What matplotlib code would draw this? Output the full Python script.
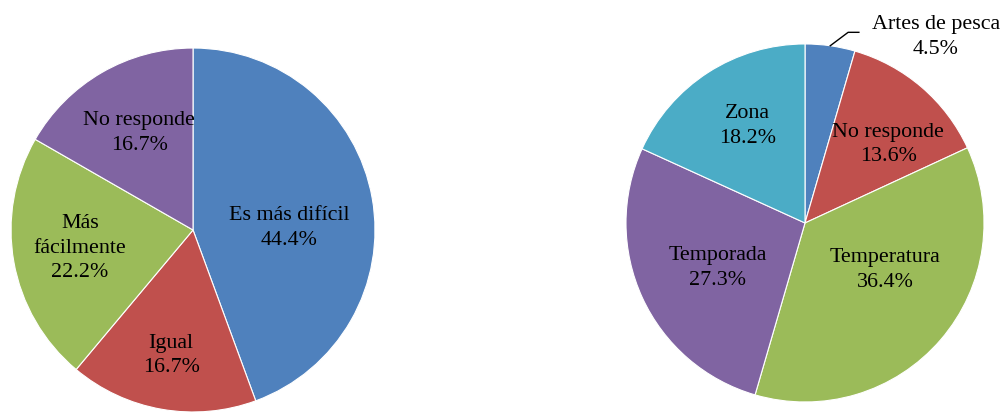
import numpy as np
import matplotlib.pyplot as plt

plt.rcParams['font.family'] = ['Liberation Serif', 'DejaVu Serif']

# left chart
left_labels = ['Es más difícil', 'Igual', 'Más\nfácilmente', 'No responde']
left_vals = [44.4, 16.7, 22.2, 16.7]
left_colors = ['#4F81BD', '#C0504D', '#9BBB59', '#8064A2']

# right chart
right_labels = ['Artes de pesca', 'No responde', 'Temperatura', 'Temporada', 'Zona']
right_vals = [4.5, 13.6, 36.4, 27.3, 18.2]
right_colors = ['#4F81BD', '#C0504D', '#9BBB59', '#8064A2', '#4BACC6']

# label placement: (distance from centre, angle shift in degrees)
left_lab_pos = [(0.53, -9), (0.70, 0), (0.63, -1), (0.61, -1)]
right_lab_pos = [None, (0.64, -6), (0.52, 10.5), (0.55, 2.5), (0.63, -2)]

fs = 15.8


def draw_pie(ax, vals, labels, colors, lab_pos):
    wedges, _ = ax.pie(vals, colors=colors, startangle=90, counterclock=False,
                       radius=1, wedgeprops=dict(edgecolor='white', linewidth=0.8))
    for w, lab, v, pos in zip(wedges, labels, vals, lab_pos):
        if pos is None:
            continue
        mid = np.deg2rad((w.theta1 + w.theta2) / 2 + pos[1])
        ax.text(pos[0] * np.cos(mid), pos[0] * np.sin(mid), f'{lab}\n{v:.1f}%',
                ha='center', va='center', fontsize=fs, linespacing=1.4)
    ax.set_xlim(-1, 1)
    ax.set_ylim(-1, 1)
    ax.set_aspect('equal')
    ax.axis('off')
    return wedges


fig = plt.figure(figsize=(10.04, 4.12), dpi=100)
ax1 = fig.add_axes([0.011, 0.0, 0.3625, 0.8835])
draw_pie(ax1, left_vals, left_labels, left_colors, left_lab_pos)

ax2 = fig.add_axes([0.6235, 0.0243, 0.3566, 0.869])
w2 = draw_pie(ax2, right_vals, right_labels, right_colors, right_lab_pos)

# outside label for the small slice with a leader line
w = w2[0]
mid = np.deg2rad((w.theta1 + w.theta2) / 2)
x0, y0 = np.cos(mid), np.sin(mid)
ax2.plot([x0, x0 + 0.1, x0 + 0.16], [y0, y0 + 0.075, y0 + 0.075],
         color='black', lw=1.0, clip_on=False)
ax2.text(0.73, 1.04, f'{right_labels[0]}\n{right_vals[0]:.1f}%',
         ha='center', va='center', fontsize=fs, linespacing=1.4)

fig.savefig('out.png', dpi=100)
